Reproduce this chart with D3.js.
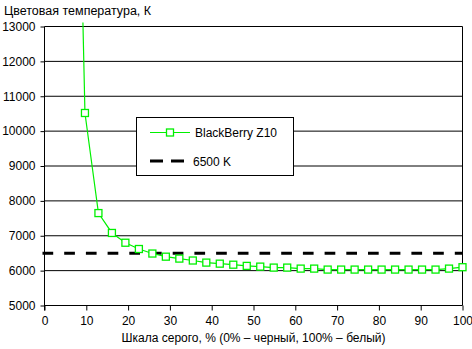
<!DOCTYPE html>
<html><head><meta charset="utf-8">
<script src="https://cdn.jsdelivr.net/npm/d3@7"></script>
<style>body{margin:0;background:#fff}svg{display:block;font-family:"Liberation Sans",Arial,sans-serif}</style>
</head><body>
<script>
// Data
const seriesName = "BlackBerry Z10";
const refName = "6500 K";
const refValue = 6500;
// grey level steps: i*100/31, i = 2..31
const stepIndex = [2,3,4,5,6,7,8,9,10,11,12,13,14,15,16,17,18,19,20,21,22,23,24,25,26,27,28,29,30,31];
const colorTemp = [27800,10520,7650,7080,6800,6620,6490,6400,6345,6290,6230,6200,6170,6136,6115,6087,6087,6058,6058,6030,6030,6030,6030,6030,6030,6030,6030,6030,6058,6098];
const xTicks = [0,10,20,30,40,50,60,70,80,90,100];
const yTicks = [5000,6000,7000,8000,9000,10000,11000,12000,13000];
const yTitle = "Цветовая температура, К";
const xTitle = "Шкала серого, % (0% – черный, 100% – белый)";

const W = 472, H = 349;
const m = {left:44.5, right:462.5, top:26.5, bottom:305.5};
const green = "#00f000";
const svg = d3.select("body").append("svg").attr("width",W).attr("height",H);
const x = d3.scaleLinear().domain([0,100]).range([m.left,m.right]);
const y = d3.scaleLinear().domain([5000,13000]).range([m.bottom,m.top]);
const pts = stepIndex.map((s,i)=>({x:s*100/31, y:colorTemp[i]}));

svg.append("defs").append("clipPath").attr("id","clip")
  .append("rect").attr("x",m.left-6).attr("y",m.top-4).attr("width",m.right-m.left+12).attr("height",m.bottom-m.top+8);

// gridlines
svg.append("g").selectAll("line").data(yTicks.filter(d=>d>5000)).join("line")
  .attr("x1",m.left).attr("x2",m.right).attr("y1",d=>y(d)).attr("y2",d=>y(d))
  .attr("stroke","#000").attr("stroke-width",1);
// right border
svg.append("line").attr("x1",m.right).attr("x2",m.right).attr("y1",m.top).attr("y2",m.bottom).attr("stroke","#000");

// axes
const yAxis = d3.axisLeft(y).tickValues(yTicks).tickSize(4).tickPadding(5).tickFormat(d3.format("d"));
const gy = svg.append("g").attr("transform",`translate(${m.left},0)`).call(yAxis);
const xAxis = d3.axisBottom(x).tickValues(xTicks).tickSize(5).tickPadding(6).tickFormat(d3.format("d"));
const gx = svg.append("g").attr("transform",`translate(0,${m.bottom})`).call(xAxis);
[gx,gy].forEach(g=>{
  g.select(".domain").attr("stroke","#000");
  g.selectAll(".tick line").attr("stroke","#000");
  g.selectAll("text").attr("fill","#000").style("font-size","12px").style("font-family","'Liberation Sans',Arial,sans-serif");
});
gx.select(".domain").attr("d",`M${m.left},0H${m.right}`);
gy.select(".domain").attr("d",`M0,${m.bottom+5}V${m.top}`);

// reference line
svg.append("line").attr("x1",m.left-2).attr("x2",m.right).attr("y1",y(refValue)).attr("y2",y(refValue))
  .attr("stroke","#000").attr("stroke-width",3).attr("stroke-dasharray","10.7,11");

// series
const g = svg.append("g").attr("clip-path","url(#clip)");
g.append("path").datum(pts).attr("fill","none").attr("stroke",green).attr("stroke-width",1.2)
  .attr("d",d3.line().x(d=>x(d.x)).y(d=>y(d.y)));
g.selectAll("rect").data(pts).join("rect")
  .attr("x",d=>x(d.x)-3.5).attr("y",d=>y(d.y)-3.5).attr("width",7).attr("height",7)
  .attr("fill","#fff").attr("stroke",green).attr("stroke-width",1.3);

// legend
const lg = svg.append("g");
lg.append("rect").attr("x",136.5).attr("y",117.5).attr("width",157).attr("height",58).attr("fill","#fff").attr("stroke","#000");
lg.append("line").attr("x1",150).attr("x2",190).attr("y1",132.5).attr("y2",132.5).attr("stroke",green).attr("stroke-width",1.2);
lg.append("rect").attr("x",166.5).attr("y",129).attr("width",7).attr("height",7).attr("fill","#fff").attr("stroke",green).attr("stroke-width",1.3);
lg.append("text").attr("x",195).attr("y",137).text(seriesName).style("font-size","12px");
lg.append("line").attr("x1",150).attr("x2",185).attr("y1",161).attr("y2",161).attr("stroke","#000").attr("stroke-width",3).attr("stroke-dasharray","13,8");
lg.append("text").attr("x",193).attr("y",165.5).text(refName).style("font-size","12px");

// titles
svg.append("text").attr("x",4).attr("y",15).text(yTitle).style("font-size","12.5px");
svg.append("text").attr("x",(m.left+m.right)/2).attr("y",342).attr("text-anchor","middle").text(xTitle).style("font-size","12px");
</script>
</body></html>
